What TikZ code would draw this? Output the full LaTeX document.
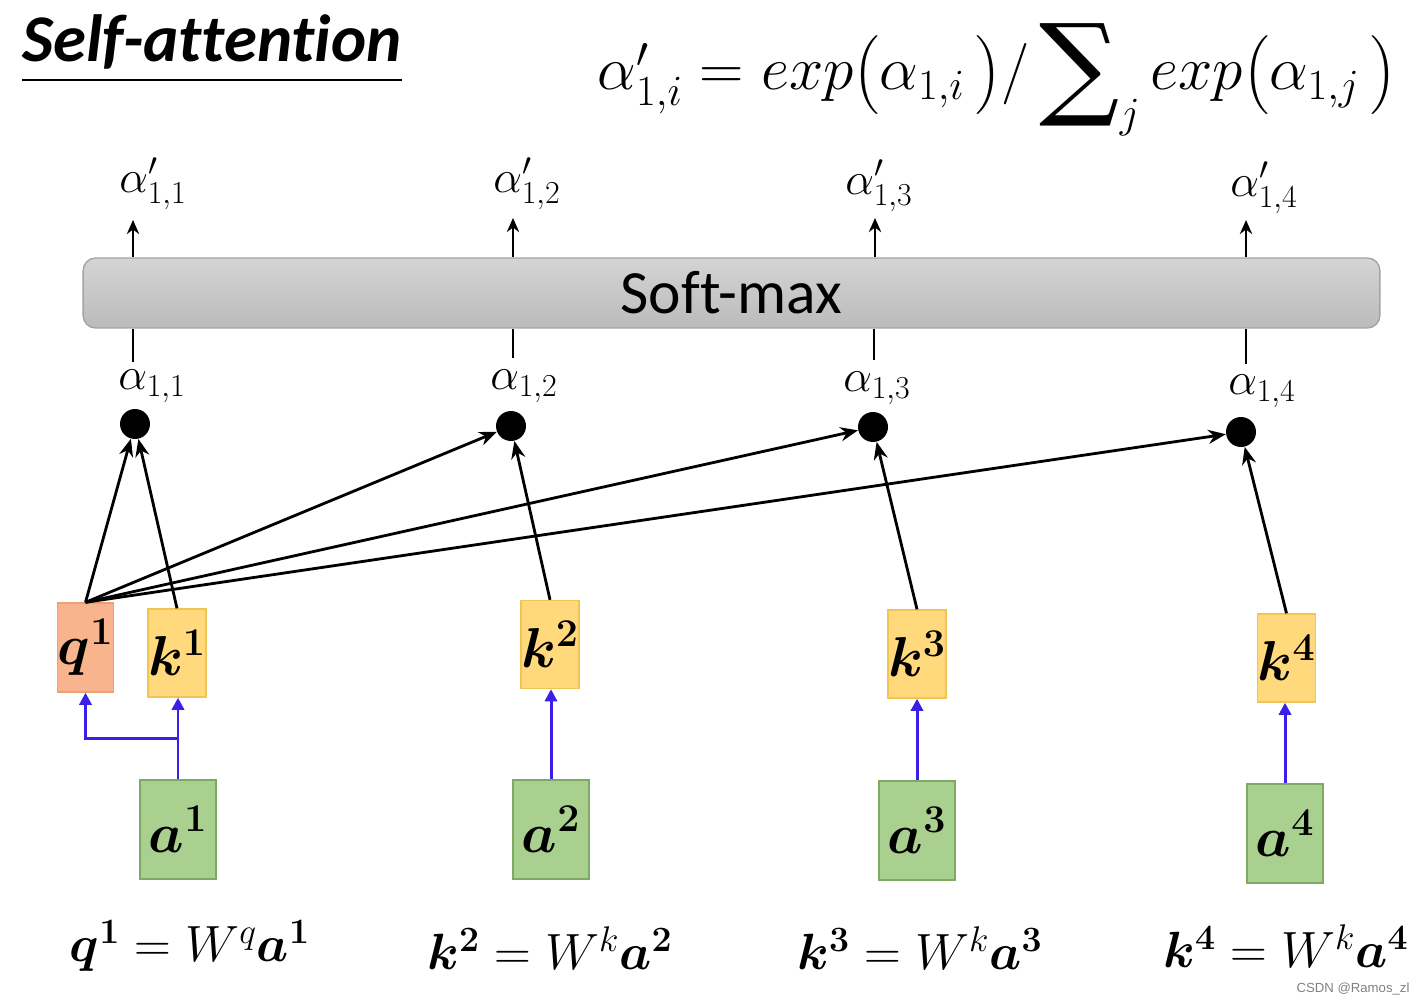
\RequirePackage{fix-cm}
\documentclass[tikz,border=0pt]{standalone}
\usepackage{amsmath,bm}
\usepackage{fontspec}
\usetikzlibrary{arrows.meta}
\newfontfamily\calfont[Ligatures=NoCommon]{Carlito}
\newfontfamily\markfont{Liberation Sans}
\newfontfamily\sumfont{DejaVu Serif}
\definecolor{qfill}{HTML}{F8B48C}
\definecolor{qline}{HTML}{E8A274}
\definecolor{kfill}{HTML}{FFD97C}
\definecolor{kline}{HTML}{F1C454}
\definecolor{afill}{HTML}{A9D08E}
\definecolor{aline}{HTML}{7DAA62}
\definecolor{barline}{HTML}{A4A4A4}
\definecolor{bartop}{HTML}{D4D4D4}
\definecolor{barbot}{HTML}{BBBBBB}
\definecolor{link}{HTML}{3A1FE6}
\newcommand{\bigsum}{\mathop{\vcenter{\hbox{\raisebox{6pt}{\sumfont\fontsize{64}{64}\selectfont ∑}}}}\nolimits}
\tikzset{
  vec/.style={draw, line width=0.8pt, inner sep=0pt, font=\fontsize{32}{34}\selectfont},
  qbox/.style={vec, fill=qfill, draw=qline, minimum width=0.98cm, minimum height=1.78cm},
  kbox/.style={vec, fill=kfill, draw=kline, minimum width=0.96cm, minimum height=1.76cm},
  abox/.style={vec, fill=afill, draw=aline, minimum width=1.52cm, minimum height=1.98cm},
  dot/.style={circle, fill=black, inner sep=0pt, minimum size=0.6cm},
  score/.style={inner sep=0pt, font=\fontsize{26}{28}\selectfont},
  softbar/.style={draw=barline, line width=0.8pt, rounded corners=0.25cm, top color=bartop, bottom color=barbot,
    minimum width=25.94cm, minimum height=1.4cm, font=\calfont\fontsize{35}{38}\selectfont},
  proj/.style={draw=link, line width=1.7pt, -{Triangle[length=7pt,width=7pt]}},
  match/.style={line width=1.6pt, -{Stealth[length=10pt,width=8pt]}},
  feed/.style={line width=1.6pt},
  outarrow/.style={line width=1.6pt, -{Stealth[length=8pt,width=7pt]}},
  eqn/.style={inner sep=0pt, font=\fontsize{29}{31}\selectfont}
}
\begin{document}
\begin{tikzpicture}[x=0.02cm, y=-0.02cm]
  \useasboundingbox (0,0) rectangle (1422,1003);
  \node[inner sep=0pt, font=\calfont\bfseries\itshape\fontsize{38}{40}\selectfont] (title) at (212,42) {Self-attention};
  \draw[line width=1.3pt] ([yshift=-6pt]title.south west) -- ([yshift=-6pt]title.south east);
  \node[inner sep=0pt, anchor=base, font=\fontsize{35}{38}\selectfont] (formula) at (997,90)
    {$\alpha'_{1,i} = exp\bigl(\alpha_{1,i}\,\bigr)/\bigsum_j exp\bigl(\alpha_{1,j}\,\bigr)$};
  \node[softbar] (softmax) at (731.5,293) {Soft-max};
  \node[score] (p1) at (153,184) {$\alpha'_{1,1}$};
  \node[score] (p2) at (527,184) {$\alpha'_{1,2}$};
  \node[score] (p3) at (879,186) {$\alpha'_{1,3}$};
  \node[score] (p4) at (1264,188) {$\alpha'_{1,4}$};
  \coordinate (t1) at (133,220);
  \coordinate (t2) at (513,218);
  \coordinate (t3) at (875,218);
  \coordinate (t4) at (1246,220);
  \coordinate (b1) at (133,362);
  \coordinate (b2) at (513,358);
  \coordinate (b3) at (874,360);
  \coordinate (b4) at (1246,364);
  \node[score] (s1) at (152,386) {$\alpha_{1,1}$};
  \node[score] (s2) at (524,386) {$\alpha_{1,2}$};
  \node[score] (s3) at (877,388) {$\alpha_{1,3}$};
  \node[score] (s4) at (1262,391) {$\alpha_{1,4}$};
  \node[dot] (d1) at (135,424) {};
  \node[dot] (d2) at (511,426) {};
  \node[dot] (d3) at (873,427) {};
  \node[dot] (d4) at (1241,432) {};
  \node[qbox] (q1) at (85.5,647.5) {$\bm{q^1}$};
  \node[kbox] (k1) at (177,653) {$\bm{k^1}$};
  \node[kbox] (k2) at (550,644.5) {$\bm{k^2}$};
  \node[kbox] (k3) at (917,654) {$\bm{k^3}$};
  \node[kbox] (k4) at (1286.5,658) {$\bm{k^4}$};
  \node[abox] (a1) at (178,829.5) {$\bm{a^1}$};
  \node[abox] (a2) at (551,829.5) {$\bm{a^2}$};
  \node[abox] (a3) at (917,830.5) {$\bm{a^3}$};
  \node[abox] (a4) at (1285,833.5) {$\bm{a^4}$};
  \coordinate (split) at (178,738);
  \node[eqn] (e1) at (190,946) {$\bm{q^1} = W^q\bm{a^1}$};
  \node[eqn] (e2) at (550,948) {$\bm{k^2} = W^k\bm{a^2}$};
  \node[eqn] (e3) at (920,948) {$\bm{k^3} = W^k\bm{a^3}$};
  \node[eqn] (e4) at (1286,946) {$\bm{k^4} = W^k\bm{a^4}$};
  \node[inner sep=0pt, text=gray, font=\markfont\fontsize{7.5}{9}\selectfont] (mark) at (1353,989) {CSDN @Ramos\_zl};
  \begin{scope}[outarrow]
    \draw (softmax.north -| t1) to (t1);
    \draw (softmax.north -| t2) to (t2);
    \draw (softmax.north -| t3) to (t3);
    \draw (softmax.north -| t4) to (t4);
  \end{scope}
  \begin{scope}[feed]
    \draw (b1) to (softmax.south -| b1);
    \draw (b2) to (softmax.south -| b2);
    \draw (b3) to (softmax.south -| b3);
    \draw (b4) to (softmax.south -| b4);
  \end{scope}
  \begin{scope}[match]
    \draw (q1.north) to (d1);
    \draw (k1.north) to (d1);
    \draw (q1.north) to (d2);
    \draw (k2.north) to (d2);
    \draw (q1.north) to (d3);
    \draw (k3.north) to (d3);
    \draw (q1.north) to (d4);
    \draw (k4.north) to (d4);
  \end{scope}
  \begin{scope}[proj]
    \draw (a1.north) to (a1.north |- k1.south);
    \draw (split) -| (q1.south);
    \draw (a2.north) to (a2.north |- k2.south);
    \draw (a3.north) to (a3.north |- k3.south);
    \draw (a4.north) to (a4.north |- k4.south);
  \end{scope}
\end{tikzpicture}
\end{document}
